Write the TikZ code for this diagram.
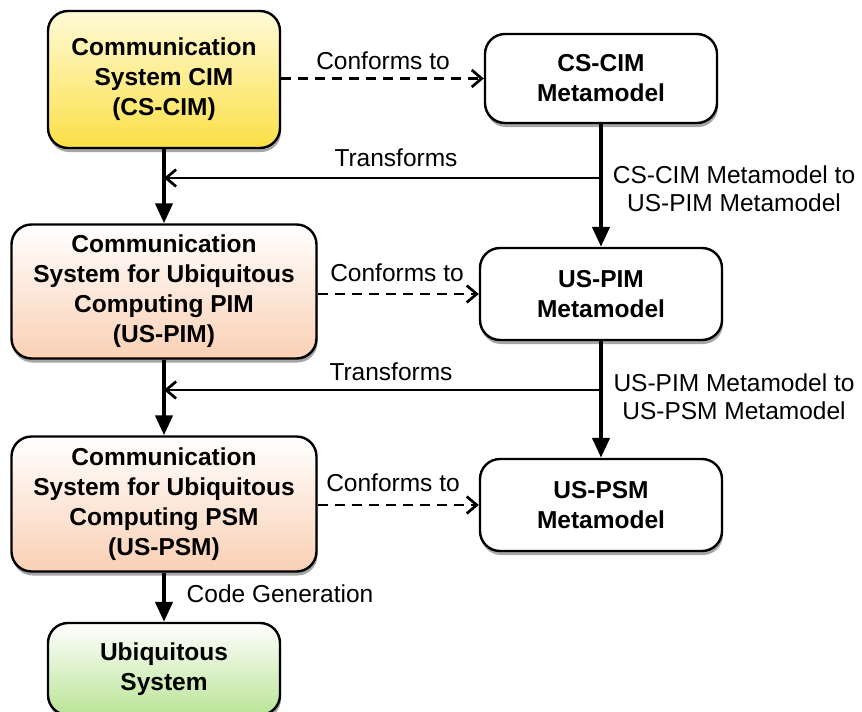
\documentclass[tikz,border=0pt]{standalone}
\usepackage{fontspec}
\setmainfont{Liberation Sans}
\usetikzlibrary{arrows.meta,shadows}
\begin{document}
\begin{tikzpicture}[x=1pt,y=-1pt,
  box/.style={draw=black, line width=2.4pt, rounded corners=20pt, align=center,
    font=\fontsize{24.5}{30}\selectfont\bfseries, inner sep=0pt,
    drop shadow={shadow xshift=1pt, shadow yshift=-4pt, opacity=0.35, fill=black}},
  yellowbox/.style={box, top color={rgb,255:red,255;green,250;blue,215}, bottom color={rgb,255:red,250;green,224;blue,70}},
  peachbox/.style={box, top color=white, bottom color={rgb,255:red,250;green,208;blue,180}},
  greenbox/.style={box, top color=white, bottom color={rgb,255:red,185;green,228;blue,150}},
  metabox/.style={box, fill=white},
  lbl/.style={font=\fontsize{24.5}{28}\selectfont, align=center, inner sep=0pt},
  mainarrow/.style={line width=4.3pt, -{Triangle[length=20pt,width=17pt]}},
  conf/.style={line width=2.7pt, dash pattern=on 10pt off 7pt, -{Straight Barb[length=10pt,width=17pt,line width=2.7pt]}},
  trans/.style={line width=2.7pt, -{Straight Barb[length=10pt,width=17pt,line width=2.7pt]}}
]
\useasboundingbox (0,0) rectangle (862,712);

\node[yellowbox, minimum width=232pt, minimum height=137pt] (A) at (164,79.5)
  {Communication\\System CIM\\(CS-CIM)};
\node[metabox, minimum width=232pt, minimum height=89pt] (B) at (601,78.5)
  {CS-CIM\\Metamodel};
\node[peachbox, minimum width=305pt, minimum height=134pt] (C) at (164,291.5)
  {Communication\\System for Ubiquitous\\Computing PIM\\(US-PIM)};
\node[metabox, minimum width=242pt, minimum height=92pt] (D) at (601,294)
  {US-PIM\\Metamodel};
\node[peachbox, minimum width=305pt, minimum height=135pt] (E) at (164,504)
  {Communication\\System for Ubiquitous\\Computing PSM\\(US-PSM)};
\node[metabox, minimum width=242pt, minimum height=92pt] (F) at (601,505)
  {US-PSM\\Metamodel};
\node[greenbox, minimum width=232pt, minimum height=92pt] (G) at (164,669)
  {Ubiquitous\\System};

% vertical arrows
\draw[mainarrow] (A.south) -- (C.north);
\draw[mainarrow] (C.south) -- (E.north);
\draw[mainarrow] (E.south) -- (G.north);
\draw[mainarrow] (B.south) -- (D.north);
\draw[mainarrow] (D.south) -- (F.north);

% conforms to
\draw[conf] (A.east |- B.west) -- (B.west);
\draw[conf] (C.east |- D.west) -- (D.west);
\draw[conf] (E.east |- F.west) -- (F.west);

% transforms
\coordinate (t1s) at (601,178);
\coordinate (t1e) at (164,178);
\coordinate (t2s) at (601,390);
\coordinate (t2e) at (164,390);
\draw[trans] (t1s) -- (t1e);
\draw[trans] (t2s) -- (t2e);

% labels
\node[lbl] (l1) at (383,61) {Conforms to};
\node[lbl] (l2) at (397,273) {Conforms to};
\node[lbl] (l3) at (393,483) {Conforms to};
\node[lbl] (l4) at (396,158) {Transforms};
\node[lbl] (l5) at (391,372) {Transforms};
\node[lbl] (l6) at (734,189) {CS-CIM Metamodel to\\US-PIM Metamodel};
\node[lbl] (l7) at (734,397) {US-PIM Metamodel to\\US-PSM Metamodel};
\node[lbl] (l8) at (280,594) {Code Generation};
\end{tikzpicture}
\end{document}
